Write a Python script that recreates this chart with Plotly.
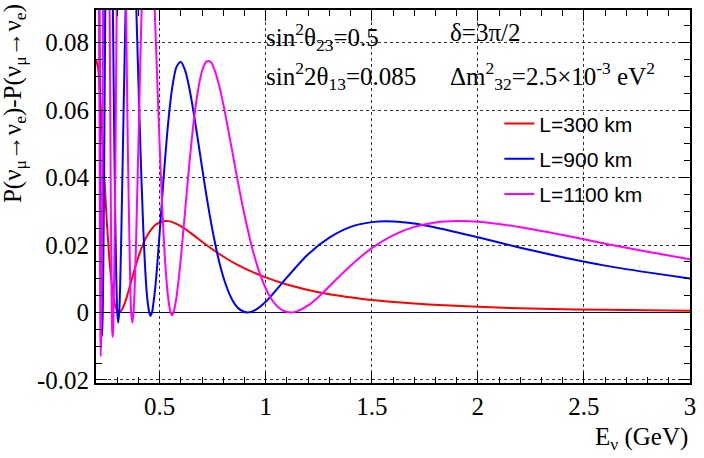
import plotly.graph_objects as go

# ---------------- data ----------------
E_red = [0.20, 0.21, 0.22, 0.23, 0.24, 0.25, 0.26, 0.27, 0.28, 0.29, 0.30, 0.309,
         0.32, 0.34, 0.36, 0.38, 0.40, 0.42, 0.44, 0.46, 0.48, 0.50, 0.52, 0.54,
         0.56, 0.60, 0.65, 0.70, 0.75, 0.80, 0.85, 0.90, 1.0, 1.1, 1.2, 1.3, 1.4,
         1.5, 1.7, 2.0, 2.3, 2.6, 3.0]
P_red = [0.0750, 0.0725, 0.0637, 0.0519, 0.0395, 0.0281, 0.0185, 0.0110, 0.0056,
         0.0022, 0.0005, 0.0000, 0.0006, 0.0036, 0.0079, 0.0124, 0.0165, 0.0200,
         0.0227, 0.0246, 0.0260, 0.0267, 0.0271, 0.0271, 0.0268, 0.0256, 0.0234,
         0.0210, 0.0187, 0.0166, 0.0147, 0.0131, 0.0104, 0.0083, 0.0067, 0.0054,
         0.0045, 0.0037, 0.0027, 0.0017, 0.0011, 0.0008, 0.0005]

E_blue = [0.200, 0.205, 0.210, 0.216, 0.220, 0.222, 0.225, 0.229, 0.232, 0.236,
          0.240, 0.2436, 0.250, 0.260, 0.270, 0.2796, 0.285, 0.290, 0.295, 0.300,
          0.3045, 0.310, 0.315, 0.320, 0.330, 0.3396, 0.350, 0.365, 0.380, 0.390,
          0.400, 0.410, 0.420, 0.430, 0.440, 0.450, 0.4565, 0.465, 0.470, 0.480,
          0.490, 0.500, 0.520, 0.540, 0.560, 0.580, 0.600, 0.620, 0.640, 0.660,
          0.680, 0.700, 0.720, 0.750, 0.780, 0.810, 0.840, 0.870, 0.914, 0.950,
          1.00, 1.05, 1.10, 1.20, 1.30, 1.40, 1.50, 1.60, 1.70, 1.80, 2.00, 2.20,
          2.40, 2.60, 2.80, 3.00]
P_blue = [0.213, 0.215, 0.171, 0.090, 0.0446, 0.022, 0.0017, -0.0070, 0.0008, 0.0245,
          0.058, 0.090, 0.139, 0.172, 0.145, 0.090, 0.0577, 0.0316, 0.0126, 0.0003,
          -0.0030, 0.0007, 0.0111, 0.0256, 0.0594, 0.090, 0.1129, 0.1227, 0.1078, 0.090,
          0.0683, 0.0476, 0.0295, 0.0151, 0.0053, 0.0003, -0.0010, 0.0003, 0.0024, 0.0078,
          0.0152, 0.0236, 0.0410, 0.0561, 0.0670, 0.0729, 0.0743, 0.0718, 0.0665, 0.0594,
          0.0513, 0.0430, 0.0349, 0.0241, 0.0152, 0.0086, 0.0040, 0.0013, 0.0000, 0.0007,
          0.0032, 0.0067, 0.0104, 0.0173, 0.0222, 0.0254, 0.0268, 0.0270, 0.0264, 0.0252,
          0.0223, 0.0192, 0.0164, 0.0139, 0.0119, 0.0101]

E_mag = [0.200, 0.205, 0.210, 0.2148, 0.218, 0.2205, 0.2225, 0.2245, 0.227, 0.229,
         0.2334, 0.240, 0.250, 0.258, 0.2643, 0.270, 0.2745, 0.2765, 0.2785, 0.2805,
         0.2825, 0.287, 0.292, 0.2976, 0.310, 0.320, 0.330, 0.3418, 0.350, 0.360,
         0.365, 0.3715, 0.378, 0.385, 0.390, 0.400, 0.4151, 0.430, 0.450, 0.465,
         0.4765, 0.490, 0.500, 0.510, 0.520, 0.530, 0.540, 0.550, 0.5595, 0.570,
         0.580, 0.590, 0.600, 0.620, 0.640, 0.660, 0.680, 0.700, 0.720, 0.740,
         0.760, 0.780, 0.800, 0.820, 0.840, 0.860, 0.880, 0.900, 0.930, 0.960,
         0.990, 1.020, 1.050, 1.080, 1.120, 1.150, 1.200, 1.250, 1.300, 1.350,
         1.400, 1.500, 1.600, 1.700, 1.800, 1.900, 2.000, 2.200, 2.400, 2.600,
         2.800, 3.000]
P_mag = [0.255, 0.262, 0.187, 0.090, 0.030, -0.006, -0.013, -0.006, 0.012, 0.027,
         0.090, 0.179, 0.218, 0.158, 0.090, 0.032, -0.0008, -0.0056, -0.0072, -0.0056,
         -0.0008, 0.018, 0.048, 0.090, 0.159, 0.172, 0.146, 0.090, 0.049, 0.0135,
         0.0010, -0.0030, 0.0010, 0.0125, 0.024, 0.050, 0.090, 0.116, 0.122, 0.1076,
         0.090, 0.0667, 0.0497, 0.0343, 0.0214, 0.0114, 0.0045, 0.0004, -0.0008, 0.0012,
         0.0048, 0.0100, 0.0161, 0.0301, 0.0441, 0.0563, 0.0656, 0.0716, 0.0744, 0.0743,
         0.0717, 0.0674, 0.0618, 0.0553, 0.0486, 0.0417, 0.0351, 0.0289, 0.0207, 0.0139,
         0.0086, 0.0047, 0.0021, 0.0006, 0.0000, 0.0004, 0.0021, 0.0047, 0.0078, 0.0109,
         0.0139, 0.0191, 0.0229, 0.0254, 0.0267, 0.0271, 0.0269, 0.0253, 0.0230, 0.0204,
         0.0180, 0.0158]

names = ["L=300 km", "L=900 km", "L=1100 km"]
colors = ["#ff0000", "#0000ff", "#ff00ff"]

x_tickvals = [0.5, 1.0, 1.5, 2.0, 2.5, 3.0]
x_ticktext = ["0.5", "1", "1.5", "2", "2.5", "3"]
y_tickvals = [-0.02, 0.0, 0.02, 0.04, 0.06, 0.08]
y_ticktext = ["-0.02", "0", "0.02", "0.04", "0.06", "0.08"]

# ---------------- figure ----------------
fig = go.Figure()
for i, (ex, py) in enumerate([(E_red, P_red), (E_blue, P_blue), (E_mag, P_mag)]):
    fig.add_trace(go.Scatter(
        x=ex, y=py, mode="lines", name=names[i], legendgroup=names[i],
        line=dict(color=colors[i], width=2, shape="spline", smoothing=0.8),
    ))

serif = "Liberation Serif"
axis_common = dict(
    ticks="inside", ticklen=11, tickwidth=1, tickcolor="black",
    showline=True, linecolor="black", linewidth=2, mirror="allticks",
    showgrid=True, gridcolor="#333333", griddash="dot", gridwidth=1,
    tickfont=dict(family=serif, size=25, color="black"),
)

fig.update_layout(
    width=704, height=458,
    margin=dict(l=96, r=8, t=10, b=75),
    paper_bgcolor="white", plot_bgcolor="white",
    showlegend=True,
    legend=dict(x=0.679, y=0.75, xanchor="left", yanchor="top",
                font=dict(family="Liberation Sans", size=21, color="black"),
                bgcolor="rgba(0,0,0,0)", traceorder="grouped", tracegroupgap=5),
    xaxis=dict(range=[0.2, 3.0], tickmode="array", tickvals=x_tickvals,
               ticktext=x_ticktext, zeroline=False,
               minor=dict(tickmode="linear", tick0=0, dtick=0.1, ticks="inside",
                          ticklen=6, tickcolor="black", showgrid=False),
               **axis_common),
    yaxis=dict(range=[-0.0209, 0.0897], tickmode="array", tickvals=y_tickvals,
               ticktext=y_ticktext, zeroline=True, zerolinecolor="#000080",
               zerolinewidth=1,
               minor=dict(tickmode="linear", tick0=0, dtick=0.005, ticks="inside",
                          ticklen=6, tickcolor="black", showgrid=False),
               **axis_common),
)

# axis titles (ROOT style, aligned to the axis ends)
fig.add_annotation(
    text="P(ν<sub>μ</sub>→ν<sub>e</sub>)-P(ν<sub>μ</sub>→ν<sub>e</sub>)",
    xref="paper", yref="paper", x=-0.138, y=1.02, xanchor="center", yanchor="top",
    textangle=-90, showarrow=False, font=dict(family=serif, size=25, color="black"))
fig.add_annotation(
    text="E<sub>ν</sub> (GeV)", xref="paper", yref="paper", x=1.0, y=-0.103,
    xanchor="right", yanchor="top", showarrow=False,
    font=dict(family=serif, size=25, color="black"))

# parameter labels
labels = [
    ("sin<sup>2</sup>θ<sub>23</sub>=0.5", 0.2833, 0.982),
    ("sin<sup>2</sup>2θ<sub>13</sub>=0.085", 0.2833, 0.878),
    ("δ=3π/2", 0.593, 0.982),
    ("Δm<sup>2</sup><sub>32</sub>=2.5×10<sup>-3</sup> eV<sup>2</sup>", 0.593, 0.878),
]
for txt, lx, ly in labels:
    fig.add_annotation(text=txt, xref="paper", yref="paper", x=lx, y=ly,
                       xanchor="left", yanchor="top", showarrow=False,
                       font=dict(family=serif, size=25, color="black"))

fig.write_html("out.html")
